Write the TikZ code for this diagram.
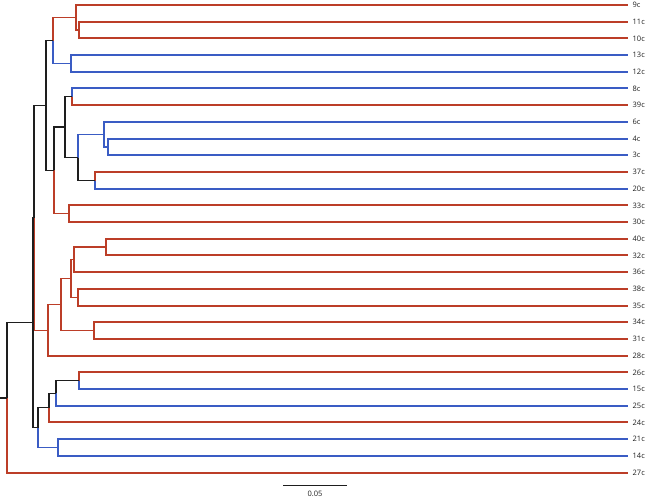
\documentclass[tikz,border=0pt]{standalone}
\usepackage{fontspec}
\setmainfont{Open Sans}
\usetikzlibrary{calc}
\definecolor{rc}{RGB}{188,62,40}
\definecolor{bc}{RGB}{58,92,196}
\definecolor{kc}{RGB}{30,30,30}
\newcommand\inode[4]{\coordinate (#1m) at ($(#3)!0.5!(#4)$);\coordinate (#1) at (#2,0 |- #1m);}
\begin{document}
\begin{tikzpicture}[x=1pt,y=-1pt,
  rd/.style={draw=rc,line width=1.5pt,line join=miter},
  bl/.style={draw=bc,line width=1.5pt,line join=miter},
  bk/.style={draw=kc,line width=1.5pt,line join=miter},
  lab/.style={anchor=west,inner sep=0pt,font=\fontsize{7.5}{9}\selectfont,text=kc}]
\useasboundingbox (0,0) rectangle (646,498);
\foreach \n [count=\i from 0] in {9c,11c,10c,13c,12c,8c,39c,6c,4c,3c,37c,20c,33c,30c,40c,32c,36c,38c,35c,34c,31c,28c,26c,15c,25c,24c,21c,14c,27c}{
  \coordinate (l\n) at (628,{round(5+16.7*\i)});
  \node[lab] (t\n) at (632.5,{5+16.7*\i}) {\n};
}
\inode{a1}{79}{l11c}{l10c}
\inode{a2}{76}{l9c}{a1}
\inode{a3}{71}{l13c}{l12c}
\inode{nA}{53}{a2}{a3}
\inode{b1}{72}{l8c}{l39c}
\inode{b2}{108}{l4c}{l3c}
\inode{b3}{104}{l6c}{b2}
\inode{b4}{95}{l37c}{l20c}
\inode{nD}{78}{b3}{b4}
\inode{nC}{65}{b1}{nD}
\inode{b5}{69}{l33c}{l30c}
\inode{nB}{54}{nC}{b5}
\inode{nX}{46}{nA}{nB}
\inode{c1}{106}{l40c}{l32c}
\inode{nK}{74}{c1}{l36c}
\inode{c2}{78}{l38c}{l35c}
\inode{nJ}{71}{nK}{c2}
\inode{c3}{94}{l34c}{l31c}
\inode{nI}{61}{nJ}{c3}
\inode{nH}{48}{nI}{l28c}
\inode{nF}{34}{nX}{nH}
\inode{d1}{79}{l26c}{l15c}
\inode{nN}{56}{d1}{l25c}
\inode{nM}{49}{nN}{l24c}
\inode{d2}{58}{l21c}{l14c}
\inode{nL}{38}{nM}{d2}
\inode{nG}{33}{nF}{nL}
\inode{root}{7}{nG}{l27c}
\coordinate (stub) at (0,0 |- root);
% red clades
\draw[rd] (a1) |- (l11c); \draw[rd] (a1) |- (l10c);
\draw[rd] (a2) |- (l9c); \draw[rd] (a2) |- (a1);
\draw[rd] (nA) |- (a2);
\draw[rd] (b1) |- (l39c);
\draw[rd] (b4) |- (l37c);
\draw[rd] (b5) |- (l33c); \draw[rd] (b5) |- (l30c);
\draw[rd] (nB) |- (b5);
\draw[rd] (c1) |- (l40c); \draw[rd] (c1) |- (l32c);
\draw[rd] (nK) |- (c1); \draw[rd] (nK) |- (l36c);
\draw[rd] (c2) |- (l38c); \draw[rd] (c2) |- (l35c);
\draw[rd] (nJ) |- (nK); \draw[rd] (nJ) |- (c2);
\draw[rd] (c3) |- (l34c); \draw[rd] (c3) |- (l31c);
\draw[rd] (nI) |- (nJ); \draw[rd] (nI) |- (c3);
\draw[rd] (nH) |- (nI); \draw[rd] (nH) |- (l28c);
\draw[rd] (nF) |- (nH);
\draw[rd] (d1) |- (l26c);
\draw[rd] (nM) |- (l24c);
\draw[rd] (root) |- (l27c);
% blue clades
\draw[bl] (a3) |- (l13c); \draw[bl] (a3) |- (l12c);
\draw[bl] (nA) |- (a3);
\draw[bl] (b1) |- (l8c);
\draw[bl] (b2) |- (l4c); \draw[bl] (b2) |- (l3c);
\draw[bl] (b3) |- (l6c); \draw[bl] (b3) |- (b2);
\draw[bl] (b4) |- (l20c);
\draw[bl] (nD) |- (b3);
\draw[bl] (d1) |- (l15c);
\draw[bl] (nN) |- (l25c);
\draw[bl] (d2) |- (l21c); \draw[bl] (d2) |- (l14c);
\draw[bl] (nL) |- (d2);
% mixed (black)
\draw[bk] (nD) |- (b4);
\draw[bk] (nC) |- (b1); \draw[bk] (nC) |- (nD);
\draw[bk] (nB) |- (nC);
\draw[bk] (nX) |- (nA); \draw[bk] (nX) |- (nB);
\draw[bk] (nF) |- (nX);
\draw[bk] (nN) |- (d1);
\draw[bk] (nM) |- (nN);
\draw[bk] (nL) |- (nM);
\draw[bk] (nG) |- (nF); \draw[bk] (nG) |- (nL);
\draw[bk] (root) |- (nG);
\draw[bk] (stub) -- (root);
% scale bar
\coordinate (sb1) at (283,485);
\coordinate (sb2) at (347,485);
\draw[draw=kc,line width=0.8pt] (sb1) -- (sb2);
\node[lab,anchor=center] (sbt) at (315,493.5) {0.05};
\end{tikzpicture}
\end{document}
